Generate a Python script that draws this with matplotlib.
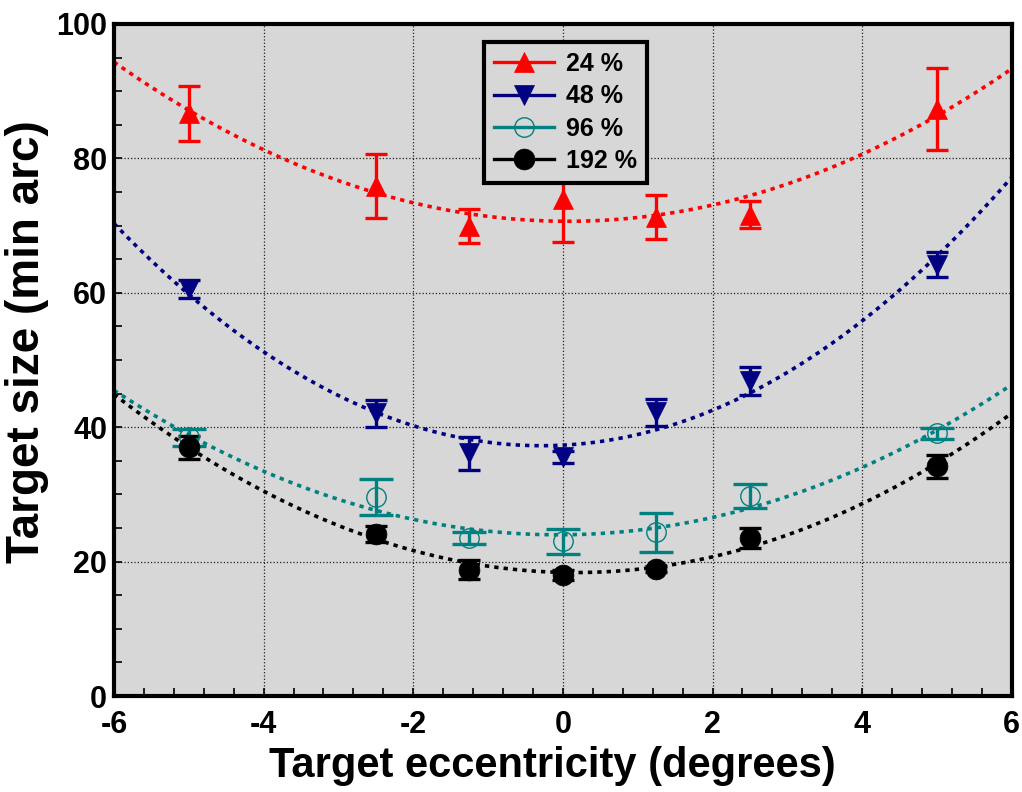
import numpy as np
import matplotlib
matplotlib.use('Agg')
import matplotlib.pyplot as plt
from matplotlib.lines import Line2D
from matplotlib.ticker import MultipleLocator

plt.rcParams['font.family'] = ['Liberation Sans', 'DejaVu Sans']
plt.rcParams['font.weight'] = 'bold'
plt.rcParams['axes.unicode_minus'] = False

# eccentricity (degrees)
ecc = [-5, -2.5, -1.25, 0, 1.25, 2.5, 5]

# target size (min arc) and error half-widths for each contrast level
size_24 = [86.7, 75.9, 69.9, 74.0, 71.3, 71.6, 87.4]
err_24 = [4.1, 4.8, 2.5, 6.5, 3.3, 2.0, 6.1]
size_48 = [60.6, 42.1, 36.1, 35.6, 42.2, 46.9, 64.2]
err_48 = [1.3, 2.0, 2.4, 0.9, 2.0, 2.1, 1.8]
size_96 = [38.5, 29.6, 23.5, 23.0, 24.4, 29.8, 39.1]
err_96 = [1.3, 2.7, 0.9, 1.9, 2.9, 1.8, 0.8]
size_192 = [37.0, 24.1, 18.8, 18.0, 18.9, 23.5, 34.2]
err_192 = [1.7, 1.2, 1.4, 0.7, 0.5, 1.5, 1.7]

labels = ['24 %', '48 %', '96 %', '192 %']

series = [
    (size_24, err_24, '#ff0000', '^', 15, '#ff0000', 8),
    (size_48, err_48, '#000080', 'v', 15, '#000080', 8),
    (size_96, err_96, '#008080', 'o', 14, 'none', 12),
    (size_192, err_192, '#000000', 'o', 15, '#000000', 8),
]

fig = plt.figure(figsize=(10.22, 7.92), dpi=100)
ax = fig.add_axes([0.1115, 0.1212, 0.8785, 0.8485])
ax.set_facecolor('#d7d7d7')

xfit = np.linspace(-6, 6, 300)
handles = []
for (ys, es, col, mk, ms, fc, cs), lab in zip(series, labels):
    # quadratic least-squares fit through the data (dotted curve)
    coef = np.polyfit(ecc, ys, 2)
    ax.plot(xfit, np.polyval(coef, xfit), color=col, lw=2.6,
            dashes=(1.2, 1.4), zorder=2)
    ax.errorbar(ecc, ys, yerr=es, fmt='none', ecolor=col, elinewidth=2.4,
                capsize=cs, capthick=2.4, zorder=3)
    ax.plot(ecc, ys, ls='none', marker=mk, ms=ms, mfc=fc, mec=col,
            mew=1.0 if fc == 'none' else 0.5, zorder=4)
    handles.append(Line2D([], [], color=col, lw=2.4, marker=mk, ms=ms,
                          mfc=fc, mec=col, mew=1.0 if fc == 'none' else 0.5))

ax.set_xlim(-6, 6)
ax.set_ylim(0, 100)
ax.xaxis.set_major_locator(MultipleLocator(2))
ax.xaxis.set_minor_locator(MultipleLocator(0.4))
ax.yaxis.set_major_locator(MultipleLocator(20))
ax.yaxis.set_minor_locator(MultipleLocator(5))
ax.tick_params(which='both', direction='in', length=6, width=1.2,
               top=False, right=False)
ax.tick_params(axis='x', labelsize=22, pad=10)
ax.tick_params(axis='y', labelsize=22, pad=5)
for t in ax.get_xticklabels() + ax.get_yticklabels():
    t.set_fontweight('bold')
ax.grid(True, which='major', color='#202020', lw=0.9, ls=':', zorder=1)
ax.set_axisbelow(True)
for sp in ax.spines.values():
    sp.set_linewidth(3)

ax.set_xlabel('Target eccentricity (degrees)', fontsize=30, fontweight='bold',
              labelpad=4.5)
ax.xaxis.label.set_x(0.488)
ax.set_ylabel('Target size (min arc)', fontsize=33, fontweight='bold')
ax.yaxis.set_label_coords(-0.072, 0.528)

leg = ax.legend(handles, labels, loc='upper left',
                bbox_to_anchor=(0.412, 0.973), borderaxespad=0,
                prop={'size': 18, 'weight': 'bold'}, handlelength=2.4,
                labelspacing=0.33, handletextpad=0.5, borderpad=0.4,
                fancybox=False, framealpha=1, facecolor='#d7d7d7',
                edgecolor='black')
leg.get_frame().set_linewidth(3)
leg.set_zorder(10)

fig.savefig('out.png', dpi=100)
